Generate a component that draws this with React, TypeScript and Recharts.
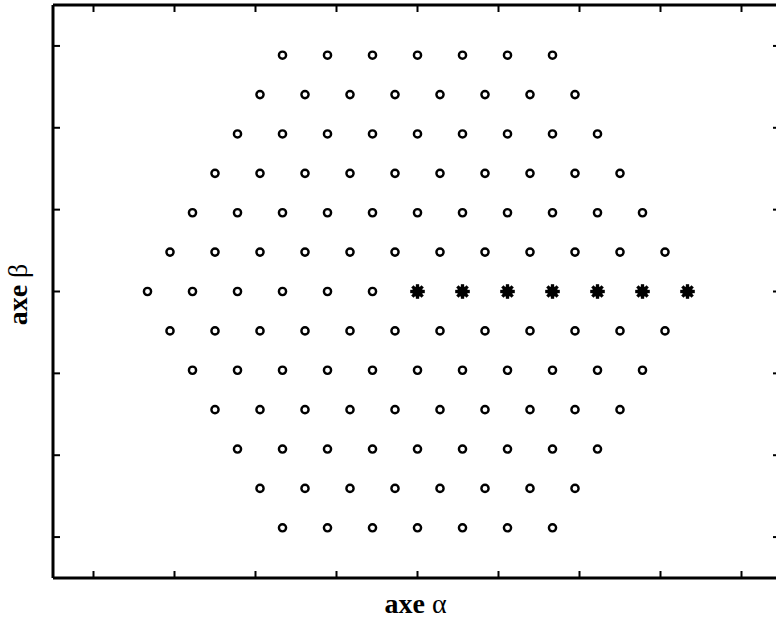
import { Label, Scatter, ScatterChart, XAxis, YAxis } from "recharts";

// α positions per row in units of 1/18 (half the spacing between neighbouring vectors)
const rowLevels = [6, 5, 4, 3, 2, 1, 0, -1, -2, -3, -4, -5, -6];
const rowAlpha: number[][] = [
  [-6, -4, -2, 0, 2, 4, 6],
  [-7, -5, -3, -1, 1, 3, 5, 7],
  [-8, -6, -4, -2, 0, 2, 4, 6, 8],
  [-9, -7, -5, -3, -1, 1, 3, 5, 7, 9],
  [-10, -8, -6, -4, -2, 0, 2, 4, 6, 8, 10],
  [-11, -9, -7, -5, -3, -1, 1, 3, 5, 7, 9, 11],
  [-12, -10, -8, -6, -4, -2, 0, 2, 4, 6, 8, 10, 12],
  [-11, -9, -7, -5, -3, -1, 1, 3, 5, 7, 9, 11],
  [-10, -8, -6, -4, -2, 0, 2, 4, 6, 8, 10],
  [-9, -7, -5, -3, -1, 1, 3, 5, 7, 9],
  [-8, -6, -4, -2, 0, 2, 4, 6, 8],
  [-7, -5, -3, -1, 1, 3, 5, 7],
  [-6, -4, -2, 0, 2, 4, 6],
];
// vectors on the positive α axis, drawn as asterisks
const highlightedAlpha = [0, 2, 4, 6, 8, 10, 12];

const xTicks = [-0.8, -0.6, -0.4, -0.2, 0, 0.2, 0.4, 0.6, 0.8];
const yTicks = [-0.6, -0.4, -0.2, 0, 0.2, 0.4, 0.6];

const STEP = 1 / 18;
const ROW = Math.sqrt(3) / 18;

type Pt = { x: number; y: number };

const circles: Pt[] = [];
rowLevels.forEach((level, i) => {
  rowAlpha[i].forEach((a) => {
    if (level === 0 && highlightedAlpha.includes(a)) return;
    circles.push({ x: a * STEP, y: level * ROW });
  });
});
const stars: Pt[] = highlightedAlpha.map((a) => ({ x: a * STEP, y: 0 }));

const FONT = "'Liberation Serif', 'Times New Roman', serif";

const OpenCircle = (props: any) => {
  const { cx, cy } = props;
  return <circle cx={cx} cy={cy} r={3.6} fill="none" stroke="#000" strokeWidth={2.4} />;
};

const Asterisk = (props: any) => {
  const { cx, cy } = props;
  const r = 7.3;
  const d = r * Math.SQRT1_2;
  return (
    <g stroke="#000" strokeWidth={3.3}>
      <circle cx={cx} cy={cy} r={5.3} fill="#000" stroke="none" />
      <line x1={cx - r} y1={cy} x2={cx + r} y2={cy} />
      <line x1={cx} y1={cy - r} x2={cx} y2={cy + r} />
      <line x1={cx - d} y1={cy - d} x2={cx + d} y2={cy + d} />
      <line x1={cx - d} y1={cy + d} x2={cx + d} y2={cy - d} />
    </g>
  );
};

const axisLine = { stroke: "#000", strokeWidth: 3 };
const tickLine = { stroke: "#000", strokeWidth: 2 };
const noText = () => "";

export default function App() {
  return (
    <div
      style={{
        position: "absolute",
        left: 0,
        top: 0,
        width: 776,
        height: 620,
        overflow: "hidden",
        background: "#fff",
      }}
    >
      <ScatterChart
        width={800}
        height={620}
        margin={{ top: 5, right: 18, bottom: 42, left: 53 }}
      >
        <XAxis
          xAxisId="bottom"
          type="number"
          dataKey="x"
          domain={[-0.9, 0.9]}
          ticks={xTicks}
          allowDataOverflow
          height={1}
          mirror
          tickSize={7}
          tickFormatter={noText}
          axisLine={axisLine}
          tickLine={tickLine}
        >
          <Label
            content={(p: any) => {
              const vb = p.viewBox;
              return (
                <text
                  x={vb.x + vb.width / 2 - 2}
                  y={vb.y + 36}
                  textAnchor="middle"
                  fontFamily={FONT}
                  fontSize={28}
                  fill="#000"
                >
                  <tspan fontWeight="bold">axe </tspan>
                  <tspan>α</tspan>
                </text>
              );
            }}
          />
        </XAxis>
        <XAxis
          xAxisId="top"
          orientation="top"
          type="number"
          dataKey="x"
          domain={[-0.9, 0.9]}
          ticks={xTicks}
          allowDataOverflow
          height={1}
          mirror
          tickSize={7}
          tickFormatter={noText}
          axisLine={axisLine}
          tickLine={tickLine}
        />
        <YAxis
          yAxisId="left"
          type="number"
          dataKey="y"
          domain={[-0.7, 0.7]}
          ticks={yTicks}
          allowDataOverflow
          width={1}
          mirror
          tickSize={7}
          tickFormatter={noText}
          axisLine={axisLine}
          tickLine={tickLine}
        >
          <Label
            content={(p: any) => {
              const vb = p.viewBox;
              const x = vb.x - 26;
              const y = vb.y + vb.height / 2 + 3;
              return (
                <text
                  x={x}
                  y={y}
                  transform={`rotate(-90 ${x} ${y})`}
                  textAnchor="middle"
                  fontFamily={FONT}
                  fontSize={28}
                  fill="#000"
                >
                  <tspan fontWeight="bold">axe </tspan>
                  <tspan>β</tspan>
                </text>
              );
            }}
          />
        </YAxis>
        <YAxis
          yAxisId="right"
          orientation="right"
          type="number"
          dataKey="y"
          domain={[-0.7, 0.7]}
          ticks={yTicks}
          allowDataOverflow
          width={1}
          mirror
          tickSize={9}
          tickFormatter={noText}
          axisLine={axisLine}
          tickLine={tickLine}
        />
        <Scatter
          data={circles}
          xAxisId="bottom"
          yAxisId="left"
          shape={OpenCircle}
          isAnimationActive={false}
        />
        <Scatter
          data={stars}
          xAxisId="bottom"
          yAxisId="left"
          shape={Asterisk}
          isAnimationActive={false}
        />
      </ScatterChart>
    </div>
  );
}
